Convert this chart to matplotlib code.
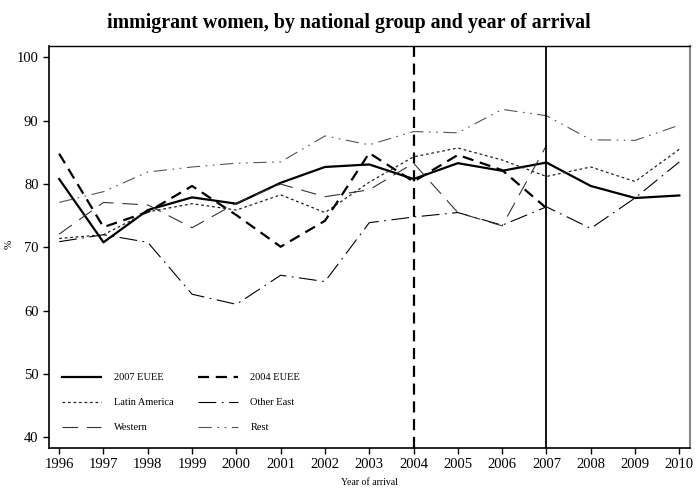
import numpy as np
import matplotlib
matplotlib.use("Agg")
import matplotlib.pyplot as plt

plt.rcParams['font.family'] = ['Liberation Serif', 'DejaVu Serif']

years = list(range(1996, 2011))
nan = np.nan
eu2007 = [80.8, 70.8, 75.9, 77.9, 76.9, 80.2, 82.7, 83.1, 80.8, 83.3, 82.1, 83.4, 79.7, 77.8, 78.2]
eu2004 = [84.8, 73.2, 75.6, 79.7, 75.1, 70.1, 74.2, 84.9, 80.4, 84.6, 82.2, 76.2, nan, nan, nan]
latin = [71.4, 72.0, 75.6, 76.9, 75.9, 78.3, 75.5, 80.3, 84.3, 85.7, 83.8, 81.2, 82.7, 80.4, 85.5]
other_east = [70.9, 72.0, 70.8, 62.6, 61.0, 65.6, 64.6, 73.9, 74.8, 75.5, 73.5, 76.4, 73.0, 77.8, 83.5]
western = [72.1, 77.1, 76.7, 73.1, 77.0, 80.0, 78.0, 79.1, 83.3, 75.5, 73.4, 86.1, nan, nan, nan]
rest = [77.1, 78.8, 81.9, 82.7, 83.3, 83.5, 87.6, 86.2, 88.3, 88.1, 91.8, 90.8, 87.0, 86.9, 89.3]

labels = ["2007 EUEE", "2004 EUEE", "Latin America", "Other East", "Western", "Rest"]
series = [eu2007, eu2004, latin, other_east, western, rest]
styles = [
    dict(color='black', lw=1.6, ls='-'),
    dict(color='black', lw=1.6, ls=(0, (5, 3))),
    dict(color='#222222', lw=0.9, ls=(0, (2.2, 2.2))),
    dict(color='black', lw=0.8, ls=(0, (16, 5, 1.5, 5))),
    dict(color='#333333', lw=0.8, ls=(0, (14, 8))),
    dict(color='#555555', lw=0.8, ls=(0, (12, 5, 1.5, 5, 1.5, 5))),
]

fig = plt.figure(figsize=(6.98, 4.88), dpi=100)
ax = fig.add_axes([0.0702, 0.0826, 0.9183, 0.8238])

handles = []
for lab, s, st in zip(labels, series, styles):
    h, = ax.plot(years, s, label=lab, **st)
    handles.append(h)

ax.axvline(2004, color='black', lw=1.6, ls=(0, (5, 3)))
ax.axvline(2007, color='black', lw=1.3)

ax.set_xlim(1995.77, 2010.24)
ax.set_ylim(38.36, 101.86)
ax.set_xticks(years)
ax.set_yticks(range(40, 101, 10))
ax.tick_params(labelsize=10.5, direction='out', length=4, width=1)
for sp in ['left', 'bottom', 'top']:
    ax.spines[sp].set_linewidth(1.2)
ax.spines['right'].set_linewidth(1.5)
ax.spines['right'].set_color('#888888')
ax.spines['top'].set_linewidth(1.0)

ax.set_xlabel("Year of arrival", fontsize=7)
ax.xaxis.set_label_coords(0.5, -0.075)
fig.text(0.006, 0.5, "%", fontsize=8, rotation=90, va='center', ha='left')

order = [0, 2, 4, 1, 3, 5]
ax.legend([handles[i] for i in order], [labels[i] for i in order],
          ncol=2, loc='lower left', bbox_to_anchor=(0.005, 0.015), frameon=False,
          fontsize=7.5, handlelength=3.8, labelspacing=1.5, columnspacing=2.4,
          handletextpad=1.2)

fig.text(0.5, 0.952, "immigrant women, by national group and year of arrival",
         fontsize=14.4, fontweight='bold', ha='center', va='center')

fig.savefig("out.png", dpi=100)
